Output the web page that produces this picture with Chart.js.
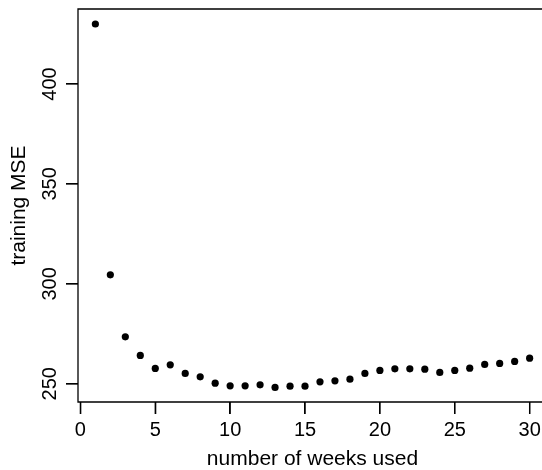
<!DOCTYPE html>
<html>
<head>
<meta charset="utf-8">
<script src="https://cdn.jsdelivr.net/npm/chart.js@4"></script>
<style>
  html, body { margin: 0; padding: 0; background: #fff; overflow: hidden; }
  #wrap { width: 560px; height: 470px; }
</style>
</head>
<body>
<div id="wrap"><canvas id="grafico" width="560" height="470"></canvas></div>
<script>
  // weeks used (x) and training MSE
  const semanas = [1,2,3,4,5,6,7,8,9,10,11,12,13,14,15,16,17,18,19,20,21,22,23,24,25,26,27,28,29,30];
  const mse = [430, 304.5, 273.5, 264.2, 257.7, 259.5, 255.2, 253.5, 250.3, 249, 249, 249.5, 248.2, 248.8, 248.8,
               251, 251.5, 252.3, 255.2, 256.7, 257.5, 257.5, 257.3, 255.7, 256.7, 257.8, 259.7, 260.2, 261.2, 262.8];
  const ticksX = [0, 5, 10, 15, 20, 25, 30];
  const ticksY = [250, 300, 350, 400];

  const familia = "'Liberation Sans', Arial, Helvetica, sans-serif";
  const fonteTick = { family: familia, size: 20 };
  const fonteTitulo = { family: familia, size: 21 };
  const TAM_TICK = 12;

  // box around the plot + tick marks, positions taken from the chart scales
  const caixa = {
    id: 'caixa',
    afterDraw(chart) {
      const { ctx, chartArea: a, scales } = chart;
      ctx.save();
      ctx.strokeStyle = '#000';
      ctx.lineWidth = 1.3;
      ctx.beginPath();
      ctx.moveTo(a.right, a.top);
      ctx.lineTo(a.left, a.top);
      ctx.lineTo(a.left, a.bottom);
      ctx.lineTo(a.right, a.bottom);
      ticksX.forEach(v => {
        const px = scales.x.getPixelForValue(v);
        ctx.moveTo(px, a.bottom);
        ctx.lineTo(px, a.bottom + TAM_TICK);
      });
      ticksY.forEach(v => {
        const py = scales.y.getPixelForValue(v);
        ctx.moveTo(a.left, py);
        ctx.lineTo(a.left - TAM_TICK, py);
      });
      ctx.stroke();
      ctx.restore();
    }
  };

  new Chart(document.getElementById('grafico'), {
    type: 'scatter',
    data: {
      datasets: [{
        data: semanas.map((s, i) => ({ x: s, y: mse[i] })),
        backgroundColor: '#000',
        borderWidth: 0,
        pointRadius: 3.6,
        pointHoverRadius: 3.6
      }]
    },
    options: {
      responsive: false,
      animation: false,
      layout: { padding: { top: 9, right: 13, left: 0, bottom: 0 } },
      plugins: { legend: { display: false }, tooltip: { enabled: false } },
      scales: {
        x: {
          type: 'linear',
          min: -0.16,
          max: 31.16,
          afterBuildTicks: s => { s.ticks = ticksX.map(v => ({ value: v })); },
          afterFit: s => { s.height = 68; s.paddingLeft = 0; s.paddingRight = 0; },
          grid: { drawOnChartArea: false, drawTicks: true, tickLength: TAM_TICK, color: '#000', tickColor: '#000', lineWidth: 1.3, tickWidth: 1.3 },
          border: { display: false },
          ticks: { color: '#000', font: fonteTick, padding: 4, maxRotation: 0, autoSkip: false },
          title: { display: true, text: 'number of weeks used', color: '#000', font: fonteTitulo, padding: { top: 0, bottom: -2 } }
        },
        y: {
          type: 'linear',
          min: 240.9,
          max: 437.5,
          afterBuildTicks: s => { s.ticks = ticksY.map(v => ({ value: v })); },
          afterFit: s => { s.width = 78; s.paddingTop = 0; s.paddingBottom = 0; },
          grid: { drawOnChartArea: false, drawTicks: true, tickLength: TAM_TICK, color: '#000', tickColor: '#000', lineWidth: 1.3, tickWidth: 1.3 },
          border: { display: false },
          ticks: { color: '#000', font: fonteTick, padding: -1, crossAlign: 'center', minRotation: 90, maxRotation: 90, autoSkip: false },
          title: { display: true, text: 'training MSE', color: '#000', font: fonteTitulo, padding: { top: 7, bottom: 0 } }
        }
      }
    },
    plugins: [caixa]
  });
</script>
</body>
</html>
